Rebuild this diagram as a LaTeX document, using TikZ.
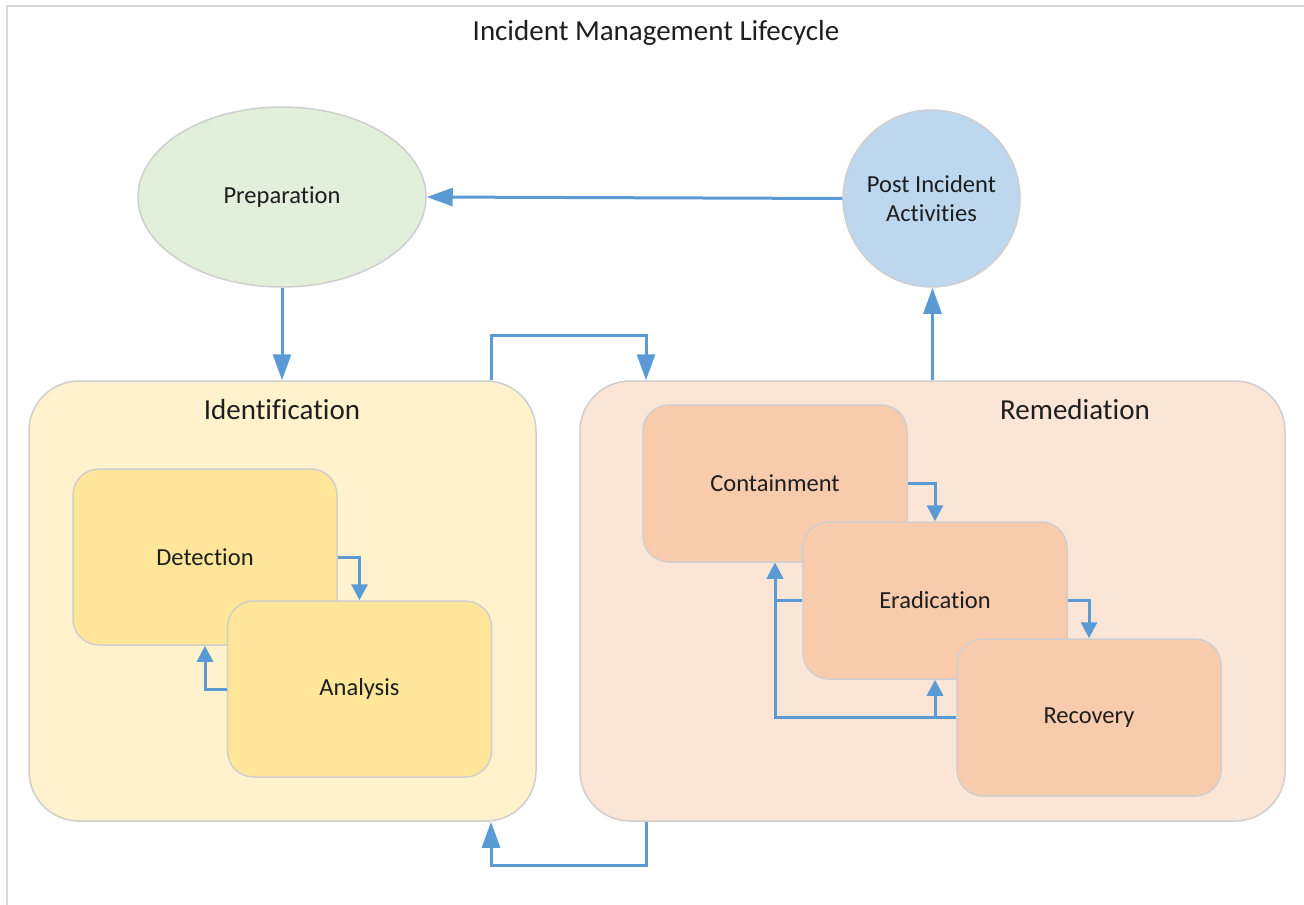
\documentclass[tikz,border=0pt]{standalone}
\usepackage{fontspec}
\setmainfont{Carlito}[Ligatures=NoCommon]
\usetikzlibrary{arrows.meta,shapes.geometric,calc}
\definecolor{frame}{HTML}{D9D9D9}
\definecolor{edge}{HTML}{D0CECE}
\definecolor{prepfill}{HTML}{E2EFDA}
\definecolor{postfill}{HTML}{BDD7EE}
\definecolor{idfill}{HTML}{FFF2CC}
\definecolor{idinner}{HTML}{FFE699}
\definecolor{remfill}{HTML}{FBE5D6}
\definecolor{reminner}{HTML}{F8CBAD}
\definecolor{arrowc}{HTML}{5B9BD5}
\definecolor{txt}{HTML}{1E1E1E}
\tikzset{
  bodytext/.style={font=\fontsize{24.5}{29.5}\selectfont, text=txt},
  headtext/.style={font=\fontsize{29}{34}\selectfont, text=txt},
  bigbox/.style={draw=edge, line width=1.5pt, rounded corners=50pt, minimum width=#1, inner sep=0pt},
  smallbox/.style={draw=edge, line width=1.5pt, rounded corners=26pt, minimum width=264pt, inner sep=0pt, bodytext},
  bigarr/.style={draw=arrowc, line width=3pt, -{Triangle[length=26pt,width=18pt]}},
  smallarr/.style={draw=arrowc, line width=3pt, -{Triangle[length=16pt,width=16pt]}},
}
\begin{document}
\begin{tikzpicture}[x=1pt,y=-1pt]
\useasboundingbox (0,0) rectangle (1304,905);
% frame
\draw[frame, line width=2pt] (7,905) -- (7,6) -- (1304,6);
% title
\node[headtext] (title) at (656,33) {Incident Management Lifecycle};
% top shapes
\node[ellipse, draw=edge, line width=1.5pt, fill=prepfill, minimum width=288pt, minimum height=180pt, inner sep=0pt, bodytext] (prep) at (282,197) {Preparation};
\node[circle, draw=edge, line width=1.5pt, fill=postfill, minimum size=177pt, inner sep=0pt, bodytext, align=center] (post) at (931.5,198.5) {Post Incident\\Activities};
% big boxes
\node[bigbox=507pt, minimum height=440pt, fill=idfill] (ident) at (282.5,601) {};
\node[headtext] (identlbl) at (282,410) {Identification};
\node[bigbox=705pt, minimum height=440pt, fill=remfill] (rem) at (932.5,601) {};
\node[headtext] (remlbl) at (1075,410) {Remediation};
% inner boxes
\node[smallbox, minimum height=176pt, fill=idinner] (det) at (205,557) {Detection};
\node[smallbox, minimum height=176pt, fill=idinner] (ana) at (359.5,689) {Analysis};
\node[smallbox, minimum height=157pt, fill=reminner] (cont) at (775,483.5) {Containment};
\node[smallbox, minimum height=157pt, fill=reminner] (erad) at (935,600.5) {Eradication};
\node[smallbox, minimum height=157pt, fill=reminner] (rec) at (1089,717.5) {Recovery};
% inner connectors
\draw[smallarr] (det.east) -| (ana.north);
\draw[smallarr] (ana.west) -| (det.south);
\draw[smallarr] (cont.east) -| (erad.north);
\draw[smallarr] (erad.east) -| (rec.north);
\draw[smallarr] (erad.west) -| (cont.south);
\draw[smallarr] (rec.west) -| (cont.south);
\draw[smallarr] (rec.west) -| (erad.south);
% outer connectors
\draw[bigarr] (prep.south) -- (prep.south |- ident.north);
\draw[bigarr] (rem.north) -- (rem.north |- post.south);
\draw[bigarr] (post.west) -- (prep.east);
\draw[bigarr] ([xshift=208.5pt]ident.north) -- ++(0,-45) -| ([xshift=-286.5pt]rem.north);
\draw[bigarr] ([xshift=-286.5pt]rem.south) -- ++(0,44) -| ([xshift=208.5pt]ident.south);
\end{tikzpicture}
\end{document}
